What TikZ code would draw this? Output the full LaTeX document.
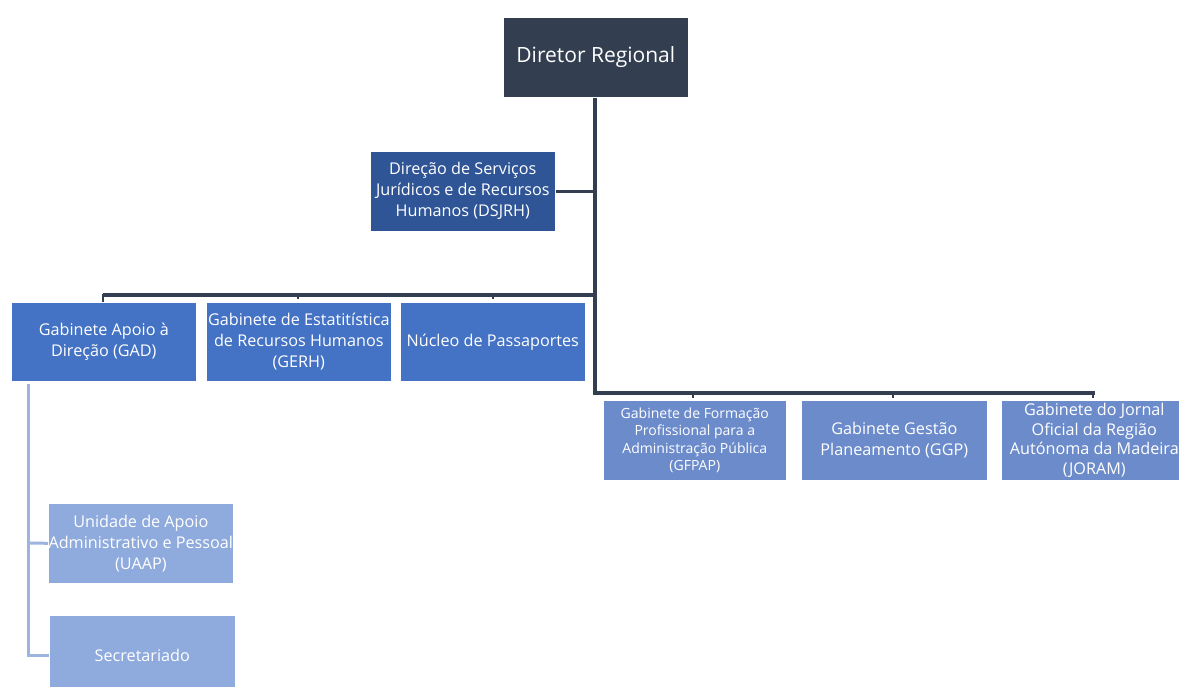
\documentclass[tikz,border=0pt]{standalone}
\usepackage{fontspec}
\setmainfont{Open Sans}
\definecolor{cdir}{HTML}{333F50}
\definecolor{cdsj}{HTML}{2F5597}
\definecolor{crowa}{HTML}{4472C4}
\definecolor{crowb}{HTML}{6C8BCB}
\definecolor{clight}{HTML}{8FAADC}
\definecolor{cline}{HTML}{333F50}
\definecolor{clline}{HTML}{9DB3E0}
\begin{document}
\begin{tikzpicture}[x=1pt,y=-1pt,
  box/.style={draw=white,line width=0.6pt,text=white,align=center,inner sep=0pt,anchor=north west,font=\fontsize{16.2}{21}\selectfont},
  dline/.style={draw=cline,line width=3.5pt},
  tick/.style={draw=cline,line width=2pt},
  lline/.style={draw=clline,line width=3pt}]
\useasboundingbox (0,0) rectangle (1179,686);
\clip (0,0) rectangle (1179,686);
\node[box,fill=cdir,minimum width=185pt,minimum height=80pt,font=\fontsize{21}{24}\selectfont] (dir) at (503,17) {Diretor Regional};
\node[box,fill=cdsj,minimum width=185pt,minimum height=80pt] (dsj) at (370,151) {Direção de Serviços\\Jurídicos e de Recursos\\Humanos (DSJRH)};
\node[box,fill=crowa,minimum width=185pt,minimum height=79pt] (gad) at (11,302) {Gabinete Apoio à\\Direção (GAD)};
\node[box,fill=crowa,minimum width=185pt,minimum height=79pt] (gerh) at (206,302) {Gabinete de Estatitística\\de Recursos Humanos\\(GERH)};
\node[box,fill=crowa,minimum width=185pt,minimum height=79pt] (nuc) at (400,302) {Núcleo de Passaportes};
\node[box,fill=crowb,minimum width=183pt,minimum height=80pt,font=\fontsize{14}{17.5}\selectfont] (gfp) at (603,400) {Gabinete de Formação\\Profissional para a\\Administração Pública\\(GFPAP)};
\node[box,fill=crowb,minimum width=186pt,minimum height=80pt] (ggp) at (801,400) {Gabinete Gestão\\Planeamento (GGP)};
\node[box,fill=crowb,minimum width=186pt,minimum height=80pt,font=\fontsize{16.2}{19.5}\selectfont] (jor) at (1001,400) {Gabinete do Jornal\\Oficial da Região\\Autónoma da Madeira\\(JORAM)};
\node[box,fill=clight,minimum width=185pt,minimum height=80pt] (uaap) at (48,503) {Unidade de Apoio\\Administrativo e Pessoal\\(UAAP)};
\node[box,fill=clight,minimum width=186pt,minimum height=80pt] (sec) at (49,615) {Secretariado};
% trunk
\coordinate (t0) at (595,97);
\coordinate (tb) at (595,393);
\draw[dline] (dir.south -| t0) -- (tb) -- (1095,393);
\draw[dline] (dsj.east) -- (dsj.east -| t0);
\draw[dline] (595,295) -- (103,295);
\draw[tick] (103,294) -- (gad.north -| 103,0);
\draw[tick] (298,294) -- (298,299);
\draw[tick] (493,294) -- (493,299);
\draw[tick] (693,392) -- (693,398);
\draw[tick] (893,392) -- (893,398);
\draw[tick] (1093,392) -- (1093,398);
% left light connector
\coordinate (l0) at (28,384);
\draw[lline] (l0) -- (28,655) -- (sec.west |- 0,655);
\draw[lline] (28,543) -- (uaap.west);
\end{tikzpicture}
\end{document}
